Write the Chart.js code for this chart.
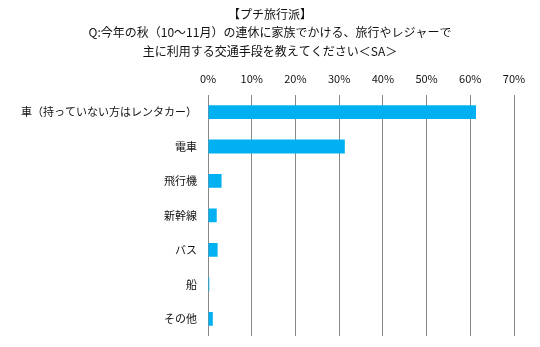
<!DOCTYPE html>
<html>
<head>
<meta charset="utf-8">
<script src="https://cdn.jsdelivr.net/npm/chart.js@4"></script>
<style>
html,body{margin:0;padding:0;background:#fff;}
#wrap{width:540px;height:347px;position:relative;}
</style>
</head>
<body>
<div id="wrap"><canvas id="c" width="540" height="347"></canvas></div>
<script>
const titleLines = ['【プチ旅行派】', 'Q:今年の秋（10～11月）の連休に家族でかける、旅行やレジャーで', '主に利用する交通手段を教えてください＜SA＞'];
const categories = ['車（持っていない方はレンタカー）', '電車', '飛行機', '新幹線', 'バス', '船', 'その他'];
const values = [61.3, 31.3, 3.1, 2.0, 2.2, 0.3, 1.1];
const tickValues = [0, 10, 20, 30, 40, 50, 60, 70];

const FONT = '"Noto Sans CJK JP", "Noto Sans", sans-serif';

new Chart(document.getElementById('c'), {
  type: 'bar',
  data: {
    labels: categories,
    datasets: [{
      data: values,
      backgroundColor: '#00B0F0',
      borderWidth: 0,
      barPercentage: 0.8,
      categoryPercentage: 0.5
    }]
  },
  options: {
    indexAxis: 'y',
    responsive: false,
    animation: false,
    layout: { padding: { top: 0, left: 0, right: 0, bottom: 11 } },
    plugins: {
      legend: { display: false },
      tooltip: { enabled: false },
      title: {
        display: true,
        text: titleLines,
        color: '#111',
        font: { family: FONT, size: 12, weight: 'normal', lineHeight: 1.55 },
        padding: { top: 5, bottom: 0 }
      }
    },
    scales: {
      x: {
        position: 'top',
        min: tickValues[0],
        max: tickValues[tickValues.length - 1],
        afterBuildTicks: (s) => { s.ticks = tickValues.map(v => ({ value: v })); },
        ticks: {
          callback: (v) => v + '%',
          color: '#111',
          font: { family: FONT, size: 11 },
          padding: 9,
          maxRotation: 0
        },
        grid: { color: '#888', lineWidth: 1, drawTicks: false },
        border: { display: false },
        afterFit: (s) => { s.height = 34; s.paddingRight = 26; s.paddingLeft = 0; }
      },
      y: {
        ticks: {
          color: '#111',
          font: { family: FONT, size: 11 },
          padding: 11
        },
        grid: { display: false, drawTicks: false },
        border: { display: false },
        afterFit: (s) => { s.width = 208; s.paddingTop = 0; s.paddingBottom = 0; }
      }
    }
  }
});
</script>
</body>
</html>
